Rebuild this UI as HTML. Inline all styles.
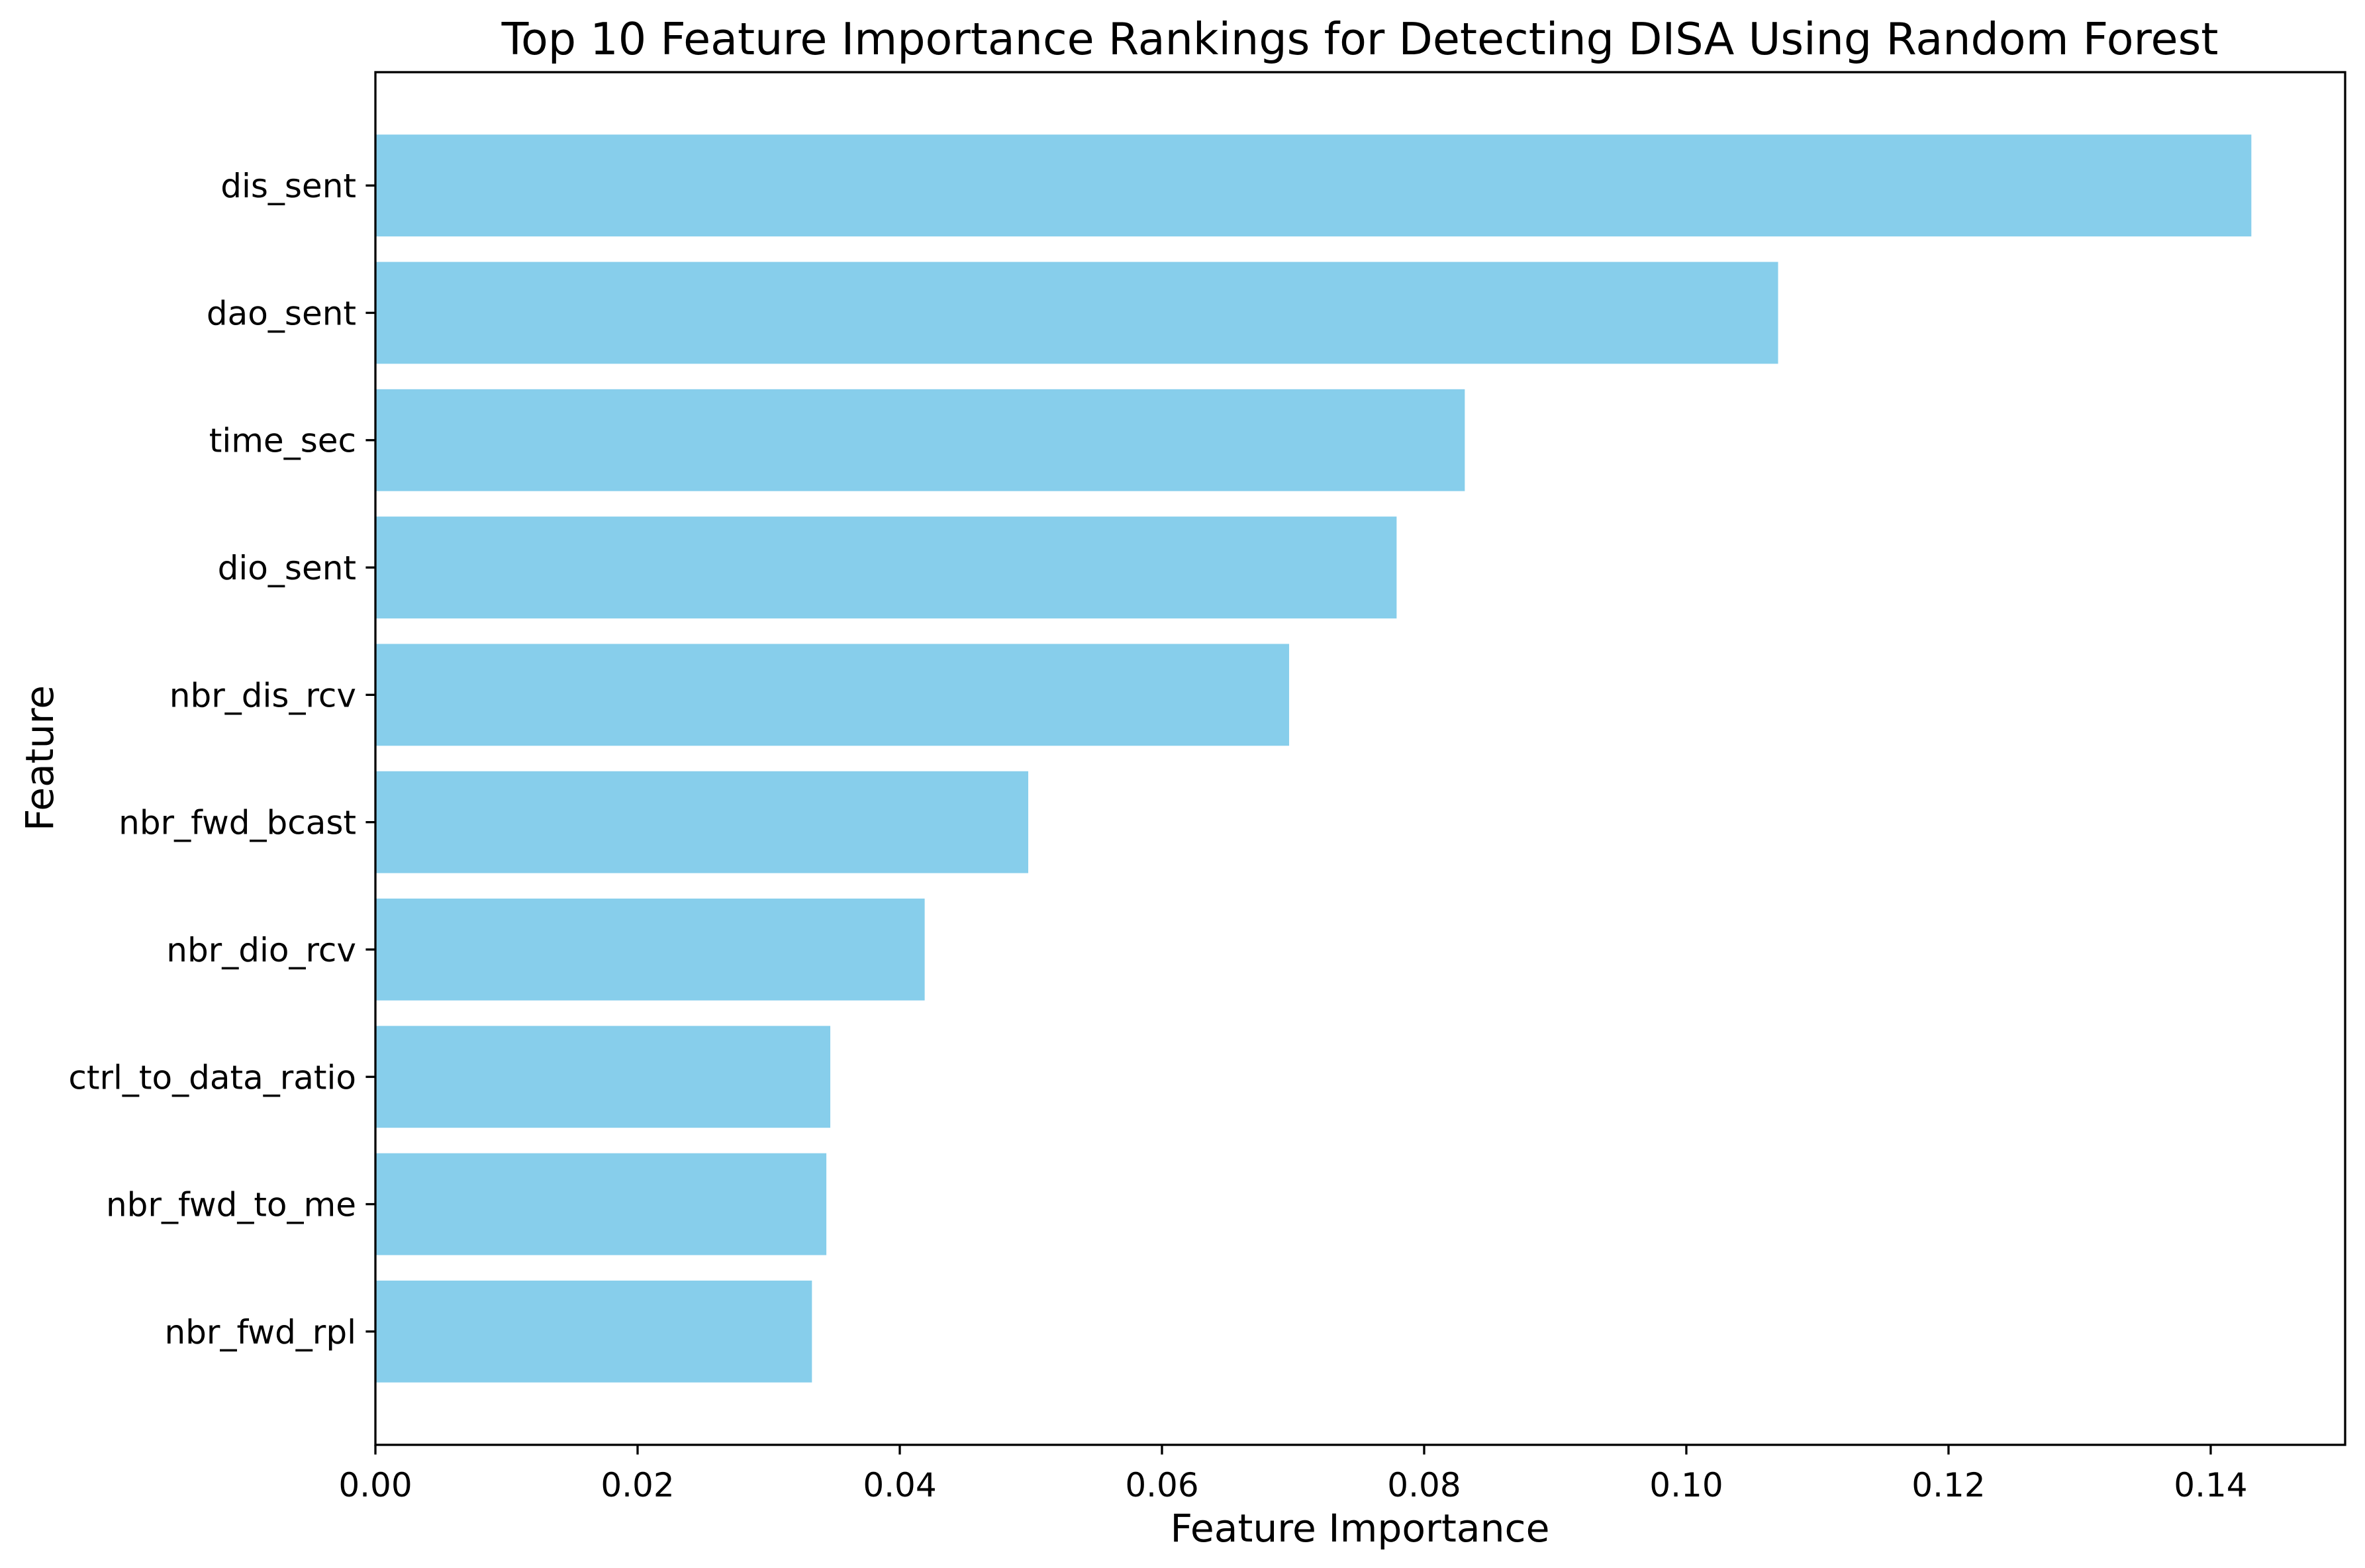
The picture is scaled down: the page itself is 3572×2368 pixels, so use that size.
<!DOCTYPE html>
<html><head><meta charset="utf-8"><style>html,body{margin:0;padding:0;background:#fff}svg{display:block}text{font-family:"DejaVu Sans","Liberation Sans",sans-serif;fill:#000}</style></head>
<body>
<svg id="chart" width="3572" height="2368" viewBox="0 0 3572 2368" xmlns="http://www.w3.org/2000/svg">
<rect width="3572" height="2368" fill="#fff"/>
<g id="bars"></g><g id="axes"></g>
<text x="2054" y="82" font-size="66.7" text-anchor="middle">Top 10 Feature Importance Rankings for Detecting DISA Using Random Forest</text>
<text x="2054" y="2328" font-size="58.3" text-anchor="middle">Feature Importance</text>
<text x="0" y="0" font-size="58.3" text-anchor="middle" transform="translate(80,1145) rotate(-90)">Feature</text>
</svg>
<script>
const categories = ["dis_sent","dao_sent","time_sec","dio_sent","nbr_dis_rcv","nbr_fwd_bcast","nbr_dio_rcv","ctrl_to_data_ratio","nbr_fwd_to_me","nbr_fwd_rpl"];
const values = [0.1431,0.1070,0.0831,0.0779,0.0697,0.0498,0.0419,0.0347,0.0344,0.0333];
const xTicks = [0,0.02,0.04,0.06,0.08,0.10,0.12,0.14];
const xTickLabels = ["0.00","0.02","0.04","0.06","0.08","0.10","0.12","0.14"];

const NS="http://www.w3.org/2000/svg";
const L=567,R=3542,T=109,B=2182;
const xmax=Math.max(...values)*1.05;
const xs=v=>L+v/xmax*(R-L);
const n=categories.length;
function mk(tag,attrs,parent){const e=document.createElementNS(NS,tag);for(const k in attrs)e.setAttribute(k,attrs[k]);parent.appendChild(e);return e;}
const bars=document.getElementById('bars'),axes=document.getElementById('axes');
const span=(n-1)+0.8; const pad=0.05*span; const lo=-0.4-pad, hi=(n-1)+0.4+pad;
const yc=i=>T+(i-lo)/(hi-lo)*(B-T);
const bh=0.8/(hi-lo)*(B-T);
categories.forEach((c,i)=>{
  const r=mk('rect',{x:L,y:yc(i)-bh/2,width:xs(values[i])-L,height:bh,fill:'#87ceeb'},bars);
  
  
  const tk=mk('line',{x1:L-14.6,x2:L,y1:yc(i),y2:yc(i),stroke:'#000','stroke-width':3.3},axes);
  
  
  const t=mk('text',{x:L-29,y:yc(i)+18,'font-size':50,'text-anchor':'end'},axes);
  t.textContent=c;
  
  
});
xTicks.forEach((v,i)=>{
  const tk=mk('line',{x1:xs(v),x2:xs(v),y1:B,y2:B+14.6,stroke:'#000','stroke-width':3.3},axes);
  
  
  const t=mk('text',{x:xs(v),y:B+78,'font-size':50,'text-anchor':'middle'},axes);
  t.textContent=xTickLabels[i];
  
  
});
const fr=mk('rect',{x:L,y:T,width:R-L,height:B-T,fill:'none',stroke:'#000','stroke-width':3.3},axes);


</script>
</body></html>
